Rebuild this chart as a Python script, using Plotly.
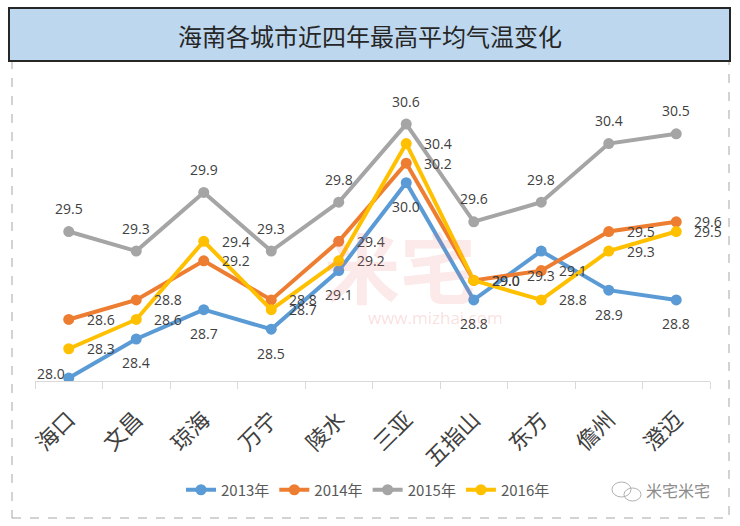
import plotly.graph_objects as go

# ---------------- data ----------------
cities = ["海口", "文昌", "琼海", "万宁", "陵水", "三亚", "五指山", "东方", "儋州", "澄迈"]
y2013 = [28.0, 28.4, 28.7, 28.5, 29.1, 30.0, 28.8, 29.3, 28.9, 28.8]
y2014 = [28.6, 28.8, 29.2, 28.8, 29.4, 30.2, 29.0, 29.1, 29.5, 29.6]
y2015 = [29.5, 29.3, 29.9, 29.3, 29.8, 30.6, 29.6, 29.8, 30.4, 30.5]
y2016 = [28.3, 28.6, 29.4, 28.7, 29.2, 30.4, 29.0, 28.8, 29.3, 29.5]
series_names = ["2013年", "2014年", "2015年", "2016年"]
title_text = "海南各城市近四年最高平均气温变化"

# ---------------- styles ----------------
colors = ["#5B9BD5", "#ED7D31", "#A5A5A5", "#FFC000"]
# label offsets (xshift, yshift) per series
label_offsets = [(0, -24), (32, 0), (0, 23), (32, 0)]

W, H = 740, 526
L, R, T, B = 35, 30, 85, 145
PW, PH = W - L - R, H - T - B


def px(x):
    return (x - L) / PW


def py(y):
    return (H - B - y) / PH


fig = go.Figure()
all_series = [y2013, y2014, y2015, y2016]
for name, vals, col in zip(series_names, all_series, colors):
    fig.add_trace(go.Scatter(
        x=cities, y=vals, name=name, mode="lines+markers",
        line=dict(color=col, width=4),
        marker=dict(color=col, size=11),
        hoverinfo="x+y+name",
    ))

annotations = []
for si, vals in enumerate(all_series):
    dx, dy = label_offsets[si]
    for ci, v in enumerate(vals):
        sx, sy = dx, dy
        if si == 0 and ci == 0:
            sx, sy = -18, 5
        annotations.append(dict(
            x=cities[ci], y=v, xref="x", yref="y", text=f"{v:.1f}",
            showarrow=False, xshift=sx, yshift=sy,
            font=dict(family="Open Sans", size=14, color="#404040"),
        ))

# title
annotations.append(dict(
    x=px(370), y=py(35), xref="paper", yref="paper", text=title_text,
    showarrow=False, xanchor="center", yanchor="middle",
    font=dict(family="Noto Sans CJK SC", size=24, color="#262626"),
))
# watermark
annotations.append(dict(
    x=px(400), y=py(265), xref="paper", yref="paper", text="米宅",
    showarrow=False, xanchor="center", yanchor="middle",
    font=dict(family="Noto Sans CJK SC", size=76, color="rgba(235,110,110,0.15)",
              weight="bold"),
))
annotations.append(dict(
    x=px(435), y=py(317), xref="paper", yref="paper", text="www.mizhai.com",
    showarrow=False, xanchor="center", yanchor="middle",
    font=dict(family="Open Sans", size=17, color="rgba(235,110,110,0.22)"),
))
annotations.append(dict(
    x=px(712), y=py(490), xref="paper", yref="paper", text="米宅米宅",
    showarrow=False, xanchor="right", yanchor="middle",
    font=dict(family="Noto Sans CJK SC", size=16, color="#8C8C8C"),
))

shapes = [
    dict(type="rect", xref="paper", yref="paper",
         x0=px(12), x1=px(729), y0=py(518), y1=py(61),
         line=dict(color="#A6A6A6", width=1, dash="dash"), layer="below"),
    dict(type="rect", xref="paper", yref="paper",
         x0=px(9), x1=px(730), y0=py(61), y1=py(8),
         fillcolor="#BDD7EE", line=dict(color="#262626", width=2), layer="below"),
    # small chat-bubble icon
    dict(type="circle", xref="paper", yref="paper",
         x0=px(612), x1=px(631), y0=py(497), y1=py(482),
         line=dict(color="#B0B0B0", width=1)),
    dict(type="circle", xref="paper", yref="paper",
         x0=px(624), x1=px(641), y0=py(501), y1=py(488),
         line=dict(color="#B0B0B0", width=1)),
]

fig.update_layout(
    width=W, height=H,
    margin=dict(l=L, r=R, t=T, b=B),
    paper_bgcolor="white", plot_bgcolor="white",
    showlegend=True,
    legend=dict(orientation="h", x=px(368), xanchor="center",
                y=py(490), yanchor="middle",
                font=dict(family="Noto Sans CJK SC", size=15, color="#595959"),
                itemwidth=30),
    xaxis=dict(
        type="category", showgrid=False, showline=True, linecolor="#D9D9D9",
        linewidth=1, ticks="outside", tickson="boundaries", ticklen=7,
        tickcolor="#D9D9D9", tickangle=-45, ticklabelstandoff=16,
        tickfont=dict(family="Noto Sans CJK SC", size=22, color="#404040"),
        zeroline=False, range=[-0.5, 9.5],
    ),
    yaxis=dict(visible=False, range=[27.97, 31.0], showgrid=False, zeroline=False),
    annotations=annotations,
    shapes=shapes,
)

fig.write_html("out.html", config={"displayModeBar": False},
               post_script="document.body.style.margin='0';")
